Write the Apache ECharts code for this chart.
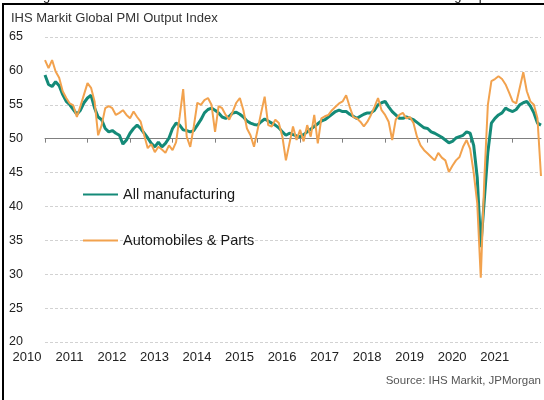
<!DOCTYPE html>
<html>
<head>
<meta charset="utf-8">
<script src="https://cdn.jsdelivr.net/npm/echarts@6/dist/echarts.min.js"></script>
<style>
html,body{margin:0;padding:0;background:#fff;}
#chart{width:544px;height:400px;}
</style>
</head>
<body>
<div id="chart"></div>
<script>
const years = ['2010','2011','2012','2013','2014','2015','2016','2017','2018','2019','2020','2021'];
const yTickMin = 20, yTickMax = 65, yTickStep = 5;

// IHS Markit Global PMI Output Index, monthly Jan 2010 - Sep 2021
const allManufacturing = [
  59.4, 58.0, 57.7, 58.4, 57.8, 56.5, 55.5, 55.0, 54.3, 53.6, 54.2, 55.3,
  56.0, 56.4, 54.5, 53.2, 52.8, 51.5, 51.0, 51.2, 50.8, 50.5, 49.2, 49.8,
  50.8, 51.5, 52.0, 51.5, 50.8, 50.1, 49.3, 48.8, 49.5, 48.8, 49.3, 50.1,
  51.5, 52.3, 52.0, 51.3, 51.2, 51.0, 51.2, 52.0, 52.8, 53.8, 54.3, 54.5,
  54.2, 53.8, 53.2, 53.0, 53.3, 53.8, 53.9, 53.6, 53.2, 52.6, 52.3, 52.1,
  52.0, 52.5, 52.9, 52.6, 52.3, 52.0, 51.6, 51.0, 50.5, 50.8, 50.6, 50.4,
  50.3, 50.6, 51.0, 51.4, 51.8, 52.2, 52.6, 52.8, 53.2, 53.6, 54.0, 54.2,
  54.0, 54.0, 53.6, 53.3, 53.0, 53.3, 53.6, 53.8, 53.8, 54.2, 55.0, 55.3,
  55.5, 54.7, 54.0, 53.5, 53.0, 53.0, 53.2, 53.0, 52.8, 52.4, 52.0, 51.6,
  51.5, 51.0, 50.8, 50.5, 50.2, 49.8, 49.4, 49.6, 50.1, 50.3, 50.5, 51.0,
  50.8, 49.0, 44.3, 34.0, 41.0, 48.0, 52.3, 53.0, 53.5, 53.8, 54.5, 54.2,
  54.0, 54.3, 55.0, 55.3, 55.5, 54.8, 53.8, 52.3, 52.0
];
const autosParts = [
  61.6, 60.4, 61.6, 59.9, 59.0, 57.0, 56.0, 55.2, 54.9, 53.2, 54.8, 56.5,
  58.2, 57.5, 55.5, 50.5, 52.0, 54.5, 54.8, 54.5, 53.5, 53.8, 54.2, 53.5,
  53.0, 54.0, 53.2, 52.5, 50.5, 48.6, 49.2, 48.0, 48.8, 48.4, 47.9, 49.0,
  48.3, 49.5, 53.2, 57.3, 50.3, 48.8, 51.8, 55.3, 55.0, 55.7, 56.0, 55.0,
  51.0, 54.8, 54.5, 53.5, 52.8, 54.0, 55.3, 56.0, 54.2, 51.5, 50.5, 48.8,
  51.3, 53.8, 56.2, 52.0, 51.8, 52.8, 52.3, 50.3, 46.8, 49.3, 51.8, 49.8,
  51.3, 49.6, 52.0, 50.3, 53.5, 49.3, 53.0, 53.3, 53.5, 54.2, 54.7, 55.2,
  55.5, 56.4, 54.7, 53.2, 53.0, 52.5, 51.8, 52.5, 53.5, 54.7, 56.0, 54.2,
  53.5, 52.5, 49.8, 52.8, 53.5, 53.8, 53.0, 53.2, 52.3, 50.3, 49.0, 48.3,
  47.8, 47.3, 46.8, 47.9, 47.2, 46.8, 45.1, 46.0, 46.8, 47.3, 48.8, 49.8,
  48.5, 45.0, 40.5, 29.5, 44.0, 55.0, 58.5, 58.8, 59.2, 58.8, 58.0, 56.8,
  55.5, 55.2, 57.5, 59.8, 57.0, 55.5, 55.0, 53.0, 44.5
];

// month categories built from the year labels
const months = [];
years.forEach(y => { for (let m = 1; m <= 12; m++) months.push(y + '-' + (m < 10 ? '0' + m : m)); });
months.length = allManufacturing.length;

const FONT = 'Liberation Sans, Arial, sans-serif';
const chart = echarts.init(document.getElementById('chart'), null, {renderer: 'canvas'});
const gridTop = 37, gridBottom = 58, H = 400;
const plotH = H - gridTop - gridBottom;
const fiftyOffset = -plotH * (50 - yTickMin) / (yTickMax - yTickMin);

chart.setOption({
  backgroundColor: '#fff',
  animation: false,
  title: {
    text: 'IHS Markit Global PMI Output Index',
    left: 6, top: 7,
    textStyle: {fontFamily: FONT, fontSize: 13, fontWeight: 'normal', color: '#333'}
  },
  grid: {left: 45, right: 3, top: gridTop, bottom: gridBottom},
  legend: {
    orient: 'vertical', left: 82, top: 187, itemGap: 31, padding: 0,
    itemWidth: 35, itemHeight: 14,
    itemStyle: {opacity: 0},
    textStyle: {fontFamily: FONT, fontSize: 14.5, color: '#1a1a1a'},
    data: ['All manufacturing', 'Automobiles & Parts']
  },
  xAxis: [{
    type: 'category', data: months, boundaryGap: false,
    axisLine: {show: false}, axisTick: {show: false}, splitLine: {show: false},
    axisLabel: {
      interval: 11, margin: 9, fontSize: 13, color: '#222',
      fontFamily: FONT, padding: [0, 36, 0, 0],
      formatter: v => v.slice(0, 4)
    }
  }, {
    type: 'category', data: months, boundaryGap: false, position: 'bottom',
    offset: fiftyOffset,
    axisLine: {show: true, lineStyle: {color: '#808080', width: 1}},
    axisTick: {show: true, interval: 11, length: 4, lineStyle: {color: '#808080'}},
    axisLabel: {show: false}, splitLine: {show: false}
  }],
  yAxis: {
    type: 'value', min: yTickMin, max: yTickMax, interval: yTickStep,
    axisLine: {show: false}, axisTick: {show: false},
    axisLabel: {fontSize: 12.5, color: '#222', margin: 22, fontFamily: FONT},
    splitLine: {lineStyle: {color: '#d2d2d2', type: [3, 2], width: 1}}
  },
  series: [{
    name: 'All manufacturing', type: 'line', data: allManufacturing,
    symbol: 'none', color: '#148a78',
    lineStyle: {width: 3, color: '#148a78'}, z: 2
  }, {
    name: 'Automobiles & Parts', type: 'line', data: autosParts,
    symbol: 'none', color: '#f2a24e',
    lineStyle: {width: 2, color: '#f2a24e'}, z: 3
  }],
  graphic: [
    {type: 'text', x: 43, y: 3, style: {text: 'g', fontSize: 13, fontFamily: FONT, fill: '#111', textVerticalAlign: 'bottom'}},
    {type: 'text', x: 447, y: 3, style: {text: 'ng exp', fontSize: 13, fontFamily: FONT, fill: '#111', textVerticalAlign: 'bottom'}},
    {type: 'rect', shape: {x: 2, y: 3, width: 542, height: 2}, style: {fill: '#000'}},
    {type: 'rect', shape: {x: 2, y: 3, width: 2, height: 397}, style: {fill: '#000'}},
    {type: 'text', x: 541, y: 375, style: {text: 'Source: IHS Markit, JPMorgan', fontSize: 11.5, fontFamily: FONT, fill: '#555', textAlign: 'right'}}
  ]
});
</script>
</body>
</html>
